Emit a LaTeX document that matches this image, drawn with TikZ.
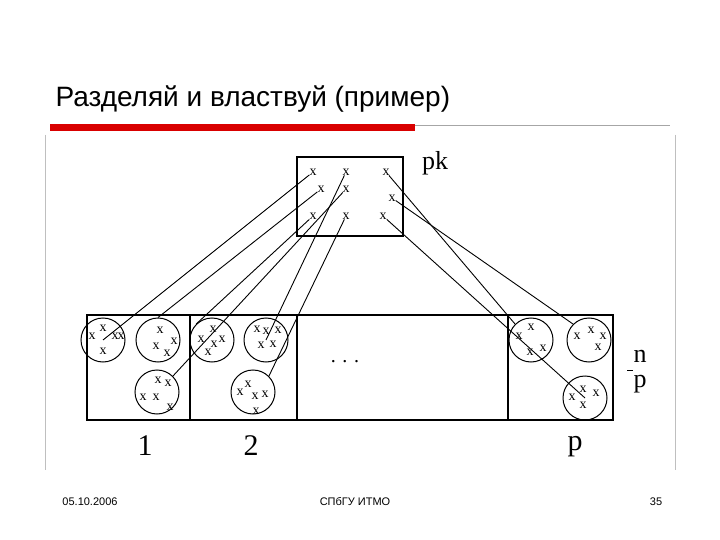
\documentclass[tikz,border=0pt]{standalone}
\usepackage{fontspec}
\setmainfont{Liberation Serif}
\newfontfamily\titlefont{Liberation Sans}
\begin{document}
\begin{tikzpicture}[x=1pt,y=-1pt,
  blk/.style={draw,line width=1.3pt},
  grp/.style={draw,circle,minimum size=44pt,inner sep=0pt,line width=1pt},
  xm/.style={inner sep=0pt,font=\fontsize{14}{14}\selectfont},
  con/.style={line width=0.9pt}]
\useasboundingbox (0,0) rectangle (720,540);
\fill[white] (0,0) rectangle (720,540);
\draw[gray!50] (45,135) -- (45,470);
\draw[gray!50] (675,135) -- (675,470);
\node[anchor=west,font=\titlefont\fontsize{28}{28}\selectfont] (title) at (52,99) {Разделяй и властвуй (пример)};
\fill[red!85!black] (50,124) rectangle (415,131);
\draw[gray!70] (415,125) -- (670,125);
% top box
\node[blk,minimum width=106pt,minimum height=79pt,inner sep=0pt] (top) at (350,196.5) {};
\node[font=\fontsize{26}{26}\selectfont] (pk) at (435,163) {pk};
\node[xm] (t1) at (313,172) {x};
\node[xm] (t2) at (346,172) {x};
\node[xm] (t3) at (386,172) {x};
\node[xm] (t4) at (321,189) {x};
\node[xm] (t5) at (346,189) {x};
\node[xm] (t6) at (392,198) {x};
\node[xm] (t7) at (313,216) {x};
\node[xm] (t8) at (346,216) {x};
\node[xm] (t9) at (383,216) {x};
% bottom strip
\node[blk,minimum width=103pt,minimum height=105pt,inner sep=0pt] (b1) at (138.5,367.5) {};
\node[blk,minimum width=107pt,minimum height=105pt,inner sep=0pt] (b2) at (243.5,367.5) {};
\node[blk,minimum width=211pt,minimum height=105pt,inner sep=0pt] (b3) at (402.5,367.5) {};
\node[blk,minimum width=105pt,minimum height=105pt,inner sep=0pt] (b4) at (560.5,367.5) {};
\node[font=\fontsize{20}{20}\selectfont] (dots) at (345,362) {. . .};
\node[font=\fontsize{30}{30}\selectfont] (l1) at (145,446) {1};
\node[font=\fontsize{30}{30}\selectfont] (l2) at (251,446) {2};
\node[font=\fontsize{30}{30}\selectfont] (lp) at (575,447) {p};
\node[font=\fontsize{26}{26}\selectfont,inner sep=0pt] (nn) at (640,356) {n};
\node[font=\fontsize{26}{26}\selectfont,inner sep=0pt] (pp) at (640,384) {p};
\draw[line width=0.8pt] (627,370) -- (633,370);
% circles
\node[grp] (c1) at (103,340) {};
\node[grp] (c2) at (158,340) {};
\node[grp] (c3) at (157,392) {};
\node[grp] (c4) at (212,340) {};
\node[grp] (c5) at (266,340) {};
\node[grp] (c6) at (253,392) {};
\node[grp] (c7) at (531,340) {};
\node[grp] (c8) at (589,340) {};
\node[grp] (c9) at (585,398) {};
\foreach \a/\b in {92/336,103/328,115/336,121/336,103/351,
  160/330,156/346,167/353,174/341,
  158/380,168/383,143/397,156/397,170/407,
  201/339,213/329,214/344,208/352,222/339,
  257/329,266/331,278/330,261/345,273/344,
  248/384,240/392,255/396,265/394,256/411,
  531/327,519/336,530/352,543/348,
  577/336,591/330,603/336,598/347,
  583/389,596/393,572/397,583/405}
  \node[xm] at (\a,\b) {x};
% connectors
\draw[con] (c1.center) -- (t1);
\draw[con] (c2.north) -- (t4);
\draw[con] (c3.north east) -- (t5);
\draw[con] (c4.north west) -- (t7);
\draw[con] (c5.center) -- (t2);
\draw[con] (c6.north east) -- (t8);
\draw[con] (t3) -- (c7.north west);
\draw[con] (t6) -- (c8.north west);
\draw[con] (t9) -- (c9.center);
% footer
\node[font=\titlefont\fontsize{11}{11}\selectfont] (date) at (90,502) {05.10.2006};
\node[font=\titlefont\fontsize{11}{11}\selectfont] (org) at (355,502) {СПбГУ ИТМО};
\node[font=\titlefont\fontsize{11}{11}\selectfont] (num) at (656,502) {35};
\end{tikzpicture}
\end{document}
